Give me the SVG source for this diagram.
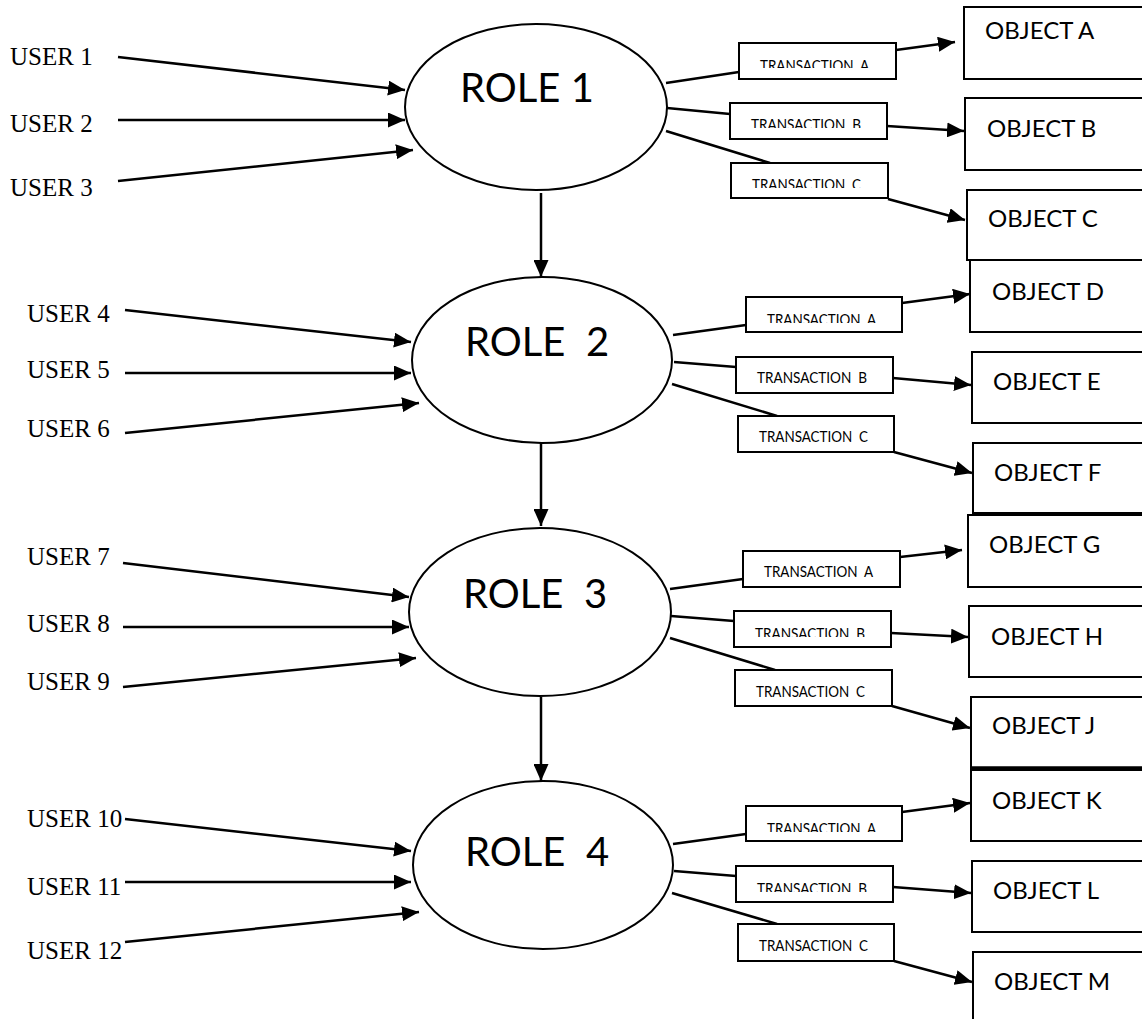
<svg xmlns="http://www.w3.org/2000/svg" width="1142" height="1019" viewBox="0 0 1142 1019">
<style>
.user{font-family:"Liberation Serif","Times New Roman",serif;font-size:25px;fill:#000}
.role{font-family:Lato,"Noto Sans",sans-serif;font-size:40px;fill:#000;white-space:pre}
.obj{font-family:Lato,"Noto Sans",sans-serif;font-size:24px;fill:#000}
.tr{font-family:Lato,"Noto Sans",sans-serif;font-size:14.5px;fill:#000;white-space:pre}
.ell{fill:#fff;stroke:#000;stroke-width:2}
.box{fill:#fff;stroke:#000;stroke-width:2}
.ln{stroke:#000;stroke-width:2.5;fill:none}
.ar{stroke:#000;stroke-width:2.5;fill:none;marker-end:url(#ah)}
</style>
<defs>
<marker id="ah" markerUnits="userSpaceOnUse" markerWidth="17" markerHeight="15" refX="17" refY="7.5" orient="auto">
<path d="M0,0 L17,7.5 L0,15 z" fill="#000"/>
</marker>
<clipPath id="c1a"><rect x="739" y="43" width="157" height="25"/></clipPath>
<clipPath id="c1b"><rect x="730" y="103" width="157" height="25"/></clipPath>
<clipPath id="c1c"><rect x="731" y="163" width="157" height="25"/></clipPath>
<clipPath id="c2a"><rect x="746" y="297" width="156" height="26"/></clipPath>
<clipPath id="c3b"><rect x="734" y="611" width="157" height="26"/></clipPath>
<clipPath id="c4a"><rect x="746" y="806" width="156" height="26"/></clipPath>
<clipPath id="c4b"><rect x="736" y="866" width="157" height="26"/></clipPath>
</defs>
<rect width="1142" height="1019" fill="#fff"/>

<g id="connectors">
<line class="ar" x1="118" y1="57" x2="405" y2="90"/>
<line class="ar" x1="118" y1="120" x2="405" y2="120"/>
<line class="ar" x1="118" y1="181" x2="413" y2="150"/>
<line class="ar" x1="125" y1="310" x2="411" y2="342"/>
<line class="ar" x1="125" y1="373" x2="411" y2="373"/>
<line class="ar" x1="125" y1="433" x2="419" y2="403"/>
<line class="ar" x1="123" y1="563" x2="409" y2="597"/>
<line class="ar" x1="123" y1="627" x2="409" y2="627"/>
<line class="ar" x1="123" y1="687" x2="416" y2="658"/>
<line class="ar" x1="125" y1="819" x2="411" y2="851"/>
<line class="ar" x1="125" y1="882" x2="411" y2="882"/>
<line class="ar" x1="125" y1="942" x2="419" y2="912"/>
<line class="ar" x1="541" y1="193" x2="541" y2="277"/>
<line class="ar" x1="541" y1="443" x2="541" y2="526"/>
<line class="ar" x1="541" y1="697" x2="541" y2="781"/>
<line class="ln" x1="666" y1="83" x2="739" y2="72"/>
<line class="ar" x1="896" y1="50" x2="955" y2="42"/>
<line class="ln" x1="667" y1="108" x2="730" y2="114"/>
<line class="ar" x1="887" y1="126" x2="964" y2="131"/>
<line class="ln" x1="666" y1="131" x2="770" y2="163"/>
<line class="ar" x1="888" y1="199" x2="965" y2="220"/>
<line class="ln" x1="673" y1="335" x2="746" y2="325"/>
<line class="ar" x1="902" y1="303" x2="970" y2="294"/>
<line class="ln" x1="674" y1="362" x2="736" y2="367"/>
<line class="ar" x1="893" y1="378" x2="971" y2="385"/>
<line class="ln" x1="672" y1="384" x2="777" y2="416"/>
<line class="ar" x1="894" y1="452" x2="972" y2="473"/>
<line class="ln" x1="670" y1="589" x2="743" y2="579"/>
<line class="ar" x1="900" y1="557" x2="962" y2="550"/>
<line class="ln" x1="671" y1="616" x2="734" y2="621"/>
<line class="ar" x1="891" y1="633" x2="968" y2="637"/>
<line class="ln" x1="670" y1="638" x2="775" y2="670"/>
<line class="ar" x1="892" y1="706" x2="970" y2="728"/>
<line class="ln" x1="673" y1="844" x2="746" y2="834"/>
<line class="ar" x1="902" y1="812" x2="970" y2="803"/>
<line class="ln" x1="674" y1="871" x2="736" y2="876"/>
<line class="ar" x1="893" y1="887" x2="971" y2="893"/>
<line class="ln" x1="672" y1="893" x2="777" y2="924"/>
<line class="ar" x1="894" y1="961" x2="972" y2="982"/>
</g>

<g id="user1"><text class="user" x="10" y="65">USER 1</text></g>
<g id="user2"><text class="user" x="10" y="132">USER 2</text></g>
<g id="user3"><text class="user" x="10" y="196">USER 3</text></g>
<g id="user4"><text class="user" x="27" y="322">USER 4</text></g>
<g id="user5"><text class="user" x="27" y="378">USER 5</text></g>
<g id="user6"><text class="user" x="27" y="437">USER 6</text></g>
<g id="user7"><text class="user" x="27" y="565">USER 7</text></g>
<g id="user8"><text class="user" x="27" y="632">USER 8</text></g>
<g id="user9"><text class="user" x="27" y="690">USER 9</text></g>
<g id="user10"><text class="user" x="27" y="827">USER 10</text></g>
<g id="user11"><text class="user" x="27" y="895">USER 11</text></g>
<g id="user12"><text class="user" x="27" y="959">USER 12</text></g>

<g id="role1"><ellipse class="ell" cx="536" cy="107" rx="131" ry="83"/><text class="role" x="460" y="102">ROLE 1</text></g>
<g id="role2"><ellipse class="ell" cx="542" cy="360" rx="130" ry="83"/><text class="role" x="465" y="356">ROLE  2</text></g>
<g id="role3"><ellipse class="ell" cx="540" cy="612" rx="131" ry="84"/><text class="role" x="463" y="608">ROLE  3</text></g>
<g id="role4"><ellipse class="ell" cx="543" cy="865" rx="130" ry="84"/><text class="role" x="465" y="866">ROLE  4</text></g>

<g id="tr1a"><rect class="box" x="739" y="43" width="157" height="36"/><text class="tr" x="760" y="71" textLength="109" lengthAdjust="spacingAndGlyphs" clip-path="url(#c1a)">TRANSACTION  A</text></g>
<g id="tr1b"><rect class="box" x="730" y="103" width="157" height="36"/><text class="tr" x="751" y="130" textLength="110" lengthAdjust="spacingAndGlyphs" clip-path="url(#c1b)">TRANSACTION  B</text></g>
<g id="tr1c"><rect class="box" x="731" y="163" width="157" height="35"/><text class="tr" x="752" y="190" textLength="109" lengthAdjust="spacingAndGlyphs" clip-path="url(#c1c)">TRANSACTION  C</text></g>
<g id="tr2a"><rect class="box" x="746" y="297" width="156" height="35"/><text class="tr" x="767" y="325" textLength="109" lengthAdjust="spacingAndGlyphs" clip-path="url(#c2a)">TRANSACTION  A</text></g>
<g id="tr2b"><rect class="box" x="736" y="357" width="157" height="36"/><text class="tr" x="757" y="383" textLength="110" lengthAdjust="spacingAndGlyphs">TRANSACTION  B</text></g>
<g id="tr2c"><rect class="box" x="738" y="416" width="156" height="36"/><text class="tr" x="759" y="442" textLength="109" lengthAdjust="spacingAndGlyphs">TRANSACTION  C</text></g>
<g id="tr3a"><rect class="box" x="743" y="551" width="157" height="36"/><text class="tr" x="764" y="577" textLength="109" lengthAdjust="spacingAndGlyphs">TRANSACTION  A</text></g>
<g id="tr3b"><rect class="box" x="734" y="611" width="157" height="36"/><text class="tr" x="755" y="639" textLength="110" lengthAdjust="spacingAndGlyphs" clip-path="url(#c3b)">TRANSACTION  B</text></g>
<g id="tr3c"><rect class="box" x="735" y="670" width="157" height="36"/><text class="tr" x="756" y="697" textLength="109" lengthAdjust="spacingAndGlyphs">TRANSACTION  C</text></g>
<g id="tr4a"><rect class="box" x="746" y="806" width="156" height="35"/><text class="tr" x="767" y="834" textLength="109" lengthAdjust="spacingAndGlyphs" clip-path="url(#c4a)">TRANSACTION  A</text></g>
<g id="tr4b"><rect class="box" x="736" y="866" width="157" height="36"/><text class="tr" x="757" y="894" textLength="110" lengthAdjust="spacingAndGlyphs" clip-path="url(#c4b)">TRANSACTION  B</text></g>
<g id="tr4c"><rect class="box" x="738" y="924" width="156" height="37"/><text class="tr" x="759" y="951" textLength="109" lengthAdjust="spacingAndGlyphs">TRANSACTION  C</text></g>

<g id="objA"><rect class="box" x="964" y="7" width="200" height="72"/><text class="obj" x="985" y="39">OBJECT A</text></g>
<g id="objB"><rect class="box" x="965" y="98" width="200" height="72"/><text class="obj" x="987" y="137">OBJECT B</text></g>
<g id="objD"><rect class="box" x="970" y="258" width="200" height="74"/><text class="obj" x="992" y="300">OBJECT D</text></g>
<g id="objC"><rect class="box" x="967" y="190" width="200" height="70"/><text class="obj" x="988" y="227">OBJECT C</text></g>
<g id="objE"><rect class="box" x="972" y="352" width="200" height="71"/><text class="obj" x="993" y="390">OBJECT E</text></g>
<g id="objG"><rect class="box" x="968" y="515" width="200" height="72"/><text class="obj" x="989" y="553">OBJECT G</text></g>
<g id="objF"><rect class="box" x="973" y="443" width="200" height="70"/><text class="obj" x="994" y="481">OBJECT F</text></g>
<g id="objH"><rect class="box" x="969" y="606" width="200" height="71"/><text class="obj" x="991" y="645">OBJECT H</text></g>
<g id="objK"><rect class="box" x="971" y="770" width="200" height="71"/><text class="obj" x="992" y="809">OBJECT K</text></g>
<g id="objJ"><rect class="box" x="971" y="697" width="200" height="71"/><line x1="971" y1="768" x2="1142" y2="768" stroke="#000" stroke-width="3.5"/><text class="obj" x="992" y="734">OBJECT J</text></g>
<g id="objL"><rect class="box" x="972" y="861" width="200" height="71"/><text class="obj" x="993" y="899">OBJECT L</text></g>
<g id="objM"><rect class="box" x="973" y="952" width="200" height="100"/><text class="obj" x="994" y="990">OBJECT M</text></g>
</svg>
